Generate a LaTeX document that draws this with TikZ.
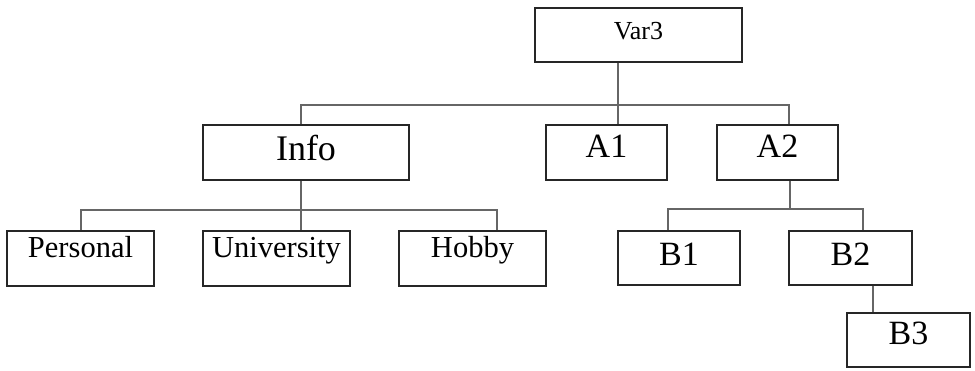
\documentclass[tikz,border=0pt]{standalone}
\usepackage{fontspec}
\setmainfont{Liberation Serif}
\begin{document}
\begin{tikzpicture}[x=1pt,y=-1pt,
  box/.style={draw=black!85, line width=1.1pt, inner sep=0pt, minimum height=54pt, text=black},
  wire/.style={draw=black!60, line width=1.3pt}]
\useasboundingbox[fill=white] (0,0) rectangle (975,370);
% nodes
\node[box, minimum width=207pt, text height=24pt, text depth=16pt, font=\fontsize{26}{30}\selectfont] (Var3) at (638.5,35) {Var3};
\node[box, minimum width=206pt, minimum height=55pt, text height=27.5pt, text depth=12.5pt, font=\fontsize{36}{40}\selectfont] (Info) at (306,152.5) {Info};
\node[box, minimum width=121pt, minimum height=55pt, text height=24.5pt, text depth=15.5pt, font=\fontsize{34}{38}\selectfont] (A1) at (606.5,152.5) {A1};
\node[box, minimum width=121pt, minimum height=55pt, text height=24.5pt, text depth=15.5pt, font=\fontsize{34}{38}\selectfont] (A2) at (777.5,152.5) {A2};
\node[box, minimum width=147pt, minimum height=55pt, text height=18.5pt, text depth=21.5pt, font=\fontsize{30.5}{34}\selectfont] (Personal) at (80.5,258.5) {Personal};
\node[box, minimum width=147pt, minimum height=55pt, text height=18.5pt, text depth=21.5pt, font=\fontsize{30.5}{34}\selectfont] (University) at (276.5,258.5) {University};
\node[box, minimum width=147pt, minimum height=55pt, text height=18.5pt, text depth=21.5pt, font=\fontsize{30.5}{34}\selectfont] (Hobby) at (472.5,258.5) {Hobby};
\node[box, minimum width=122pt, text height=27pt, text depth=13pt, font=\fontsize{34}{38}\selectfont] (B1) at (679,258) {B1};
\node[box, minimum width=123pt, text height=27pt, text depth=13pt, font=\fontsize{34}{38}\selectfont] (B2) at (850.5,258) {B2};
\node[box, minimum width=123pt, text height=24pt, text depth=16pt, font=\fontsize{34}{38}\selectfont] (B3) at (908.5,340) {B3};
% junction coordinates
\coordinate (t1) at (618,105);
\coordinate (c1) at (301,105);
\coordinate (c2) at (789,105);
\coordinate (d1) at (790,209);
\coordinate (d0) at (668,209);
\coordinate (d2) at (863,209);
\coordinate (e1) at (873,300);
\coordinate (f1) at (301,210);
\coordinate (f0) at (81,210);
\coordinate (f2) at (497,210);
% connectors
\draw[wire] (Var3.south -| t1) -- (A1.north -| t1);
\draw[wire] (Info.north -| c1) |- (c2) -- (A2.north -| c2);
\draw[wire] (A2.south -| d1) -- (d1);
\draw[wire] (B1.north -| d0) |- (d2) -- (B2.north -| d2);
\draw[wire] (B2.south -| e1) -- (B3.north -| e1);
\draw[wire] (Info.south -| f1) -- (University.north -| f1);
\draw[wire] (Personal.north -| f0) |- (f2) -- (Hobby.north -| f2);
\end{tikzpicture}
\end{document}
